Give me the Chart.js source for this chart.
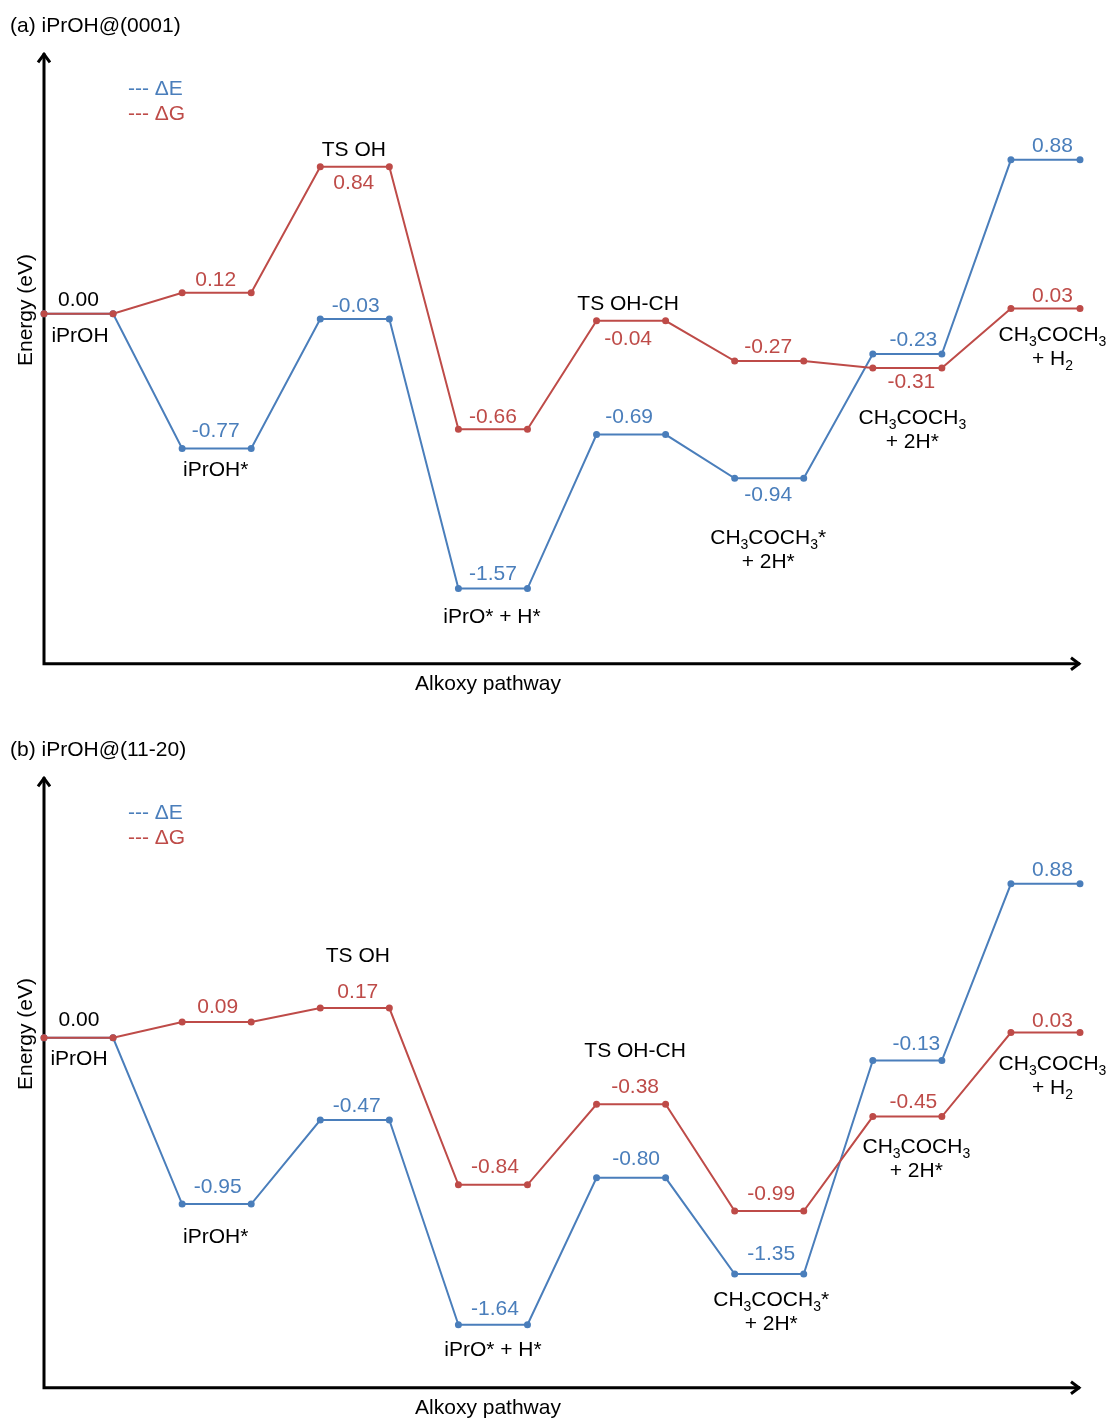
<!DOCTYPE html>
<html>
<head>
<meta charset="utf-8">
<script src="https://cdn.jsdelivr.net/npm/chart.js@4.4.0/dist/chart.umd.min.js"></script>
<style>
  body { margin: 0; background: #fff; overflow: hidden; width: 1110px; height: 1419px; position: relative; }
  canvas { position: absolute; left: 0; }
</style>
</head>
<body>
<canvas id="chartA" width="1110" height="710" style="top:0"></canvas>
<canvas id="chartB" width="1110" height="710" style="top:724px"></canvas>
<script>
// States along the pathway ('_' = next char is subscript, '|' = line break)
const states = ['iPrOH', 'iPrOH*', 'TS OH', 'iPrO* + H*', 'TS OH-CH',
  'CH_3COCH_3*|+ 2H*', 'CH_3COCH_3|+ 2H*', 'CH_3COCH_3|+ H_2'];

// (a) iPrOH@(0001)
const dE_a = [0.00, -0.77, -0.03, -1.57, -0.69, -0.94, -0.23, 0.88];
const dG_a = [0.00, 0.12, 0.84, -0.66, -0.04, -0.27, -0.31, 0.03];

// (b) iPrOH@(11-20)
const dE_b = [0.00, -0.95, -0.47, -1.64, -0.80, -1.35, -0.13, 0.88];
const dG_b = [0.00, 0.09, 0.17, -0.84, -0.38, -0.99, -0.45, 0.03];

const BLUE = '#4a7ebb';
const RED = '#be4b48';
const FONT = 'Liberation Sans, Arial, Helvetica, sans-serif';
const FS = 21;

// label offsets in px relative to the level centre: [dx, dy to baseline]
const layoutA = {
  title: '(a) iPrOH@(0001)',
  eOff: [null, [-1, -12], [1, -7], [0, -9], [-2, -12], [-1, 23], [6, -8], [7, -8]],
  gOff: [[0, -7.5], [-1, -7], [-1, 22.5], [0, -6.5], [-3, 24], [-1, -8], [4, 20], [7, -7]],
  names: [['G', 1.5, 28], ['E', -1, 27.5], ['G', -1, -11], ['E', -1, 34],
          ['G', -3, -10.5], ['E', -1, 66], ['G', 5, 56], ['G', 7, 32.5]]
};
const layoutB = {
  title: '(b) iPrOH@(11-20)',
  eOff: [null, [1, -11], [2, -8.5], [2, -10], [5, -13], [2, -14], [9, -10.5], [7, -8]],
  gOff: [[0.5, -12], [1, -9], [3, -10], [2, -12], [4, -11], [2, -11], [6, -8.5], [7, -5.5]],
  names: [['G', 0.5, 27], ['E', -1, 39], ['G', 3, -46], ['E', 0, 31],
          ['G', 4, -47.5], ['E', 2, 32], ['G', 9, 36.5], ['G', 7, 37.5]]
};

function levelPoints(vals) {
  const pts = [];
  vals.forEach((v, i) => { pts.push({x: 2 * i, y: v}); pts.push({x: 2 * i + 1, y: v}); });
  return pts;
}

function splitRich(str) {
  const parts = [];
  for (let i = 0; i < str.length; i++) {
    if (str[i] === '_') { parts.push({t: str[i + 1], sub: true}); i++; }
    else if (parts.length && !parts[parts.length - 1].sub) parts[parts.length - 1].t += str[i];
    else parts.push({t: str[i], sub: false});
  }
  return parts;
}

function richText(ctx, str, x, y, color) {
  const parts = splitRich(str);
  const subSize = Math.round(FS * 0.66);
  let total = 0;
  parts.forEach(p => {
    ctx.font = (p.sub ? subSize : FS) + 'px ' + FONT;
    p.w = ctx.measureText(p.t).width;
    total += p.w;
  });
  let cx = x - total / 2;
  ctx.fillStyle = color;
  ctx.textAlign = 'left';
  ctx.textBaseline = 'alphabetic';
  parts.forEach(p => {
    ctx.font = (p.sub ? subSize : FS) + 'px ' + FONT;
    ctx.fillText(p.t, cx, y + (p.sub ? 5 : 0));
    cx += p.w;
  });
}

function makeOverlay(dE, dG, lay) {
  return {
    id: 'overlay',
    beforeDatasetsDraw(chart) {
      const ctx = chart.ctx;
      const {left, right, top, bottom} = chart.chartArea;
      ctx.save();
      ctx.strokeStyle = '#000';
      ctx.lineWidth = 3;
      ctx.lineJoin = 'miter';
      ctx.beginPath();
      ctx.moveTo(left, bottom + 1.5);
      ctx.lineTo(left, top + 2);
      ctx.moveTo(left - 1.5, bottom);
      ctx.lineTo(right, bottom);
      ctx.stroke();
      ctx.beginPath();
      ctx.moveTo(left - 6, top + 11);
      ctx.lineTo(left, top + 3);
      ctx.lineTo(left + 6, top + 11);
      ctx.moveTo(right - 9, bottom - 6);
      ctx.lineTo(right - 1, bottom);
      ctx.lineTo(right - 9, bottom + 6);
      ctx.stroke();
      ctx.restore();
    },
    afterDatasetsDraw(chart) {
      const ctx = chart.ctx;
      const xs = chart.scales.x, ys = chart.scales.y;
      const {left, bottom} = chart.chartArea;
      ctx.save();
      // panel title, axis titles, legend
      ctx.font = '21px ' + FONT;
      ctx.fillStyle = '#000';
      ctx.textAlign = 'left';
      ctx.fillText(lay.title, 10, 31.5);
      ctx.font = FS + 'px ' + FONT;
      ctx.textAlign = 'center';
      ctx.fillText('Alkoxy pathway', 488, bottom + 26);
      ctx.save();
      ctx.translate(24, 310);
      ctx.rotate(-Math.PI / 2);
      ctx.fillText('Energy (eV)', 0, 7.5);
      ctx.restore();
      ctx.textAlign = 'left';
      ctx.fillStyle = BLUE;
      ctx.fillText('--- \u0394E', 128, 95);
      ctx.fillStyle = RED;
      ctx.fillText('--- \u0394G', 128, 119.5);

      const series = {E: dE, G: dG};
      const cxOf = i => xs.getPixelForValue(2 * i + 0.5);
      // value labels
      dE.forEach((v, i) => {
        const o = lay.eOff[i];
        if (!o) return;
        richText(ctx, v.toFixed(2), cxOf(i) + o[0], ys.getPixelForValue(v) + o[1], BLUE);
      });
      dG.forEach((v, i) => {
        const o = lay.gOff[i];
        if (!o) return;
        richText(ctx, v.toFixed(2), cxOf(i) + o[0], ys.getPixelForValue(v) + o[1], i === 0 ? '#000' : RED);
      });
      // state names
      states.forEach((name, i) => {
        const [ref, dx, dy] = lay.names[i];
        const y0 = ys.getPixelForValue(series[ref][i]) + dy;
        name.split('|').forEach((line, k) => richText(ctx, line, cxOf(i) + dx, y0 + k * 24, '#000'));
      });
      ctx.restore();
    }
  };
}

function makeChart(id, dE, dG, lay) {
  return new Chart(document.getElementById(id), {
    type: 'line',
    data: {
      datasets: [
        { label: '\u0394G', data: levelPoints(dG), borderColor: RED, backgroundColor: RED,
          borderWidth: 2, pointRadius: 2.5, pointHoverRadius: 2.5, tension: 0, clip: false },
        { label: '\u0394E', data: levelPoints(dE), borderColor: BLUE, backgroundColor: BLUE,
          borderWidth: 2, pointRadius: 2.5, pointHoverRadius: 2.5, tension: 0, clip: false }
      ]
    },
    options: {
      responsive: false,
      animation: false,
      events: [],
      layout: { padding: { left: 44, right: 30, top: 51.3, bottom: 46.2 } },
      scales: {
        x: { type: 'linear', min: 0, max: 15, display: false },
        y: { type: 'linear', min: -2, max: 1.5, display: false }
      },
      plugins: { legend: { display: false }, tooltip: { enabled: false } }
    },
    plugins: [makeOverlay(dE, dG, lay)]
  });
}

makeChart('chartA', dE_a, dG_a, layoutA);
makeChart('chartB', dE_b, dG_b, layoutB);
</script>
</body>
</html>
